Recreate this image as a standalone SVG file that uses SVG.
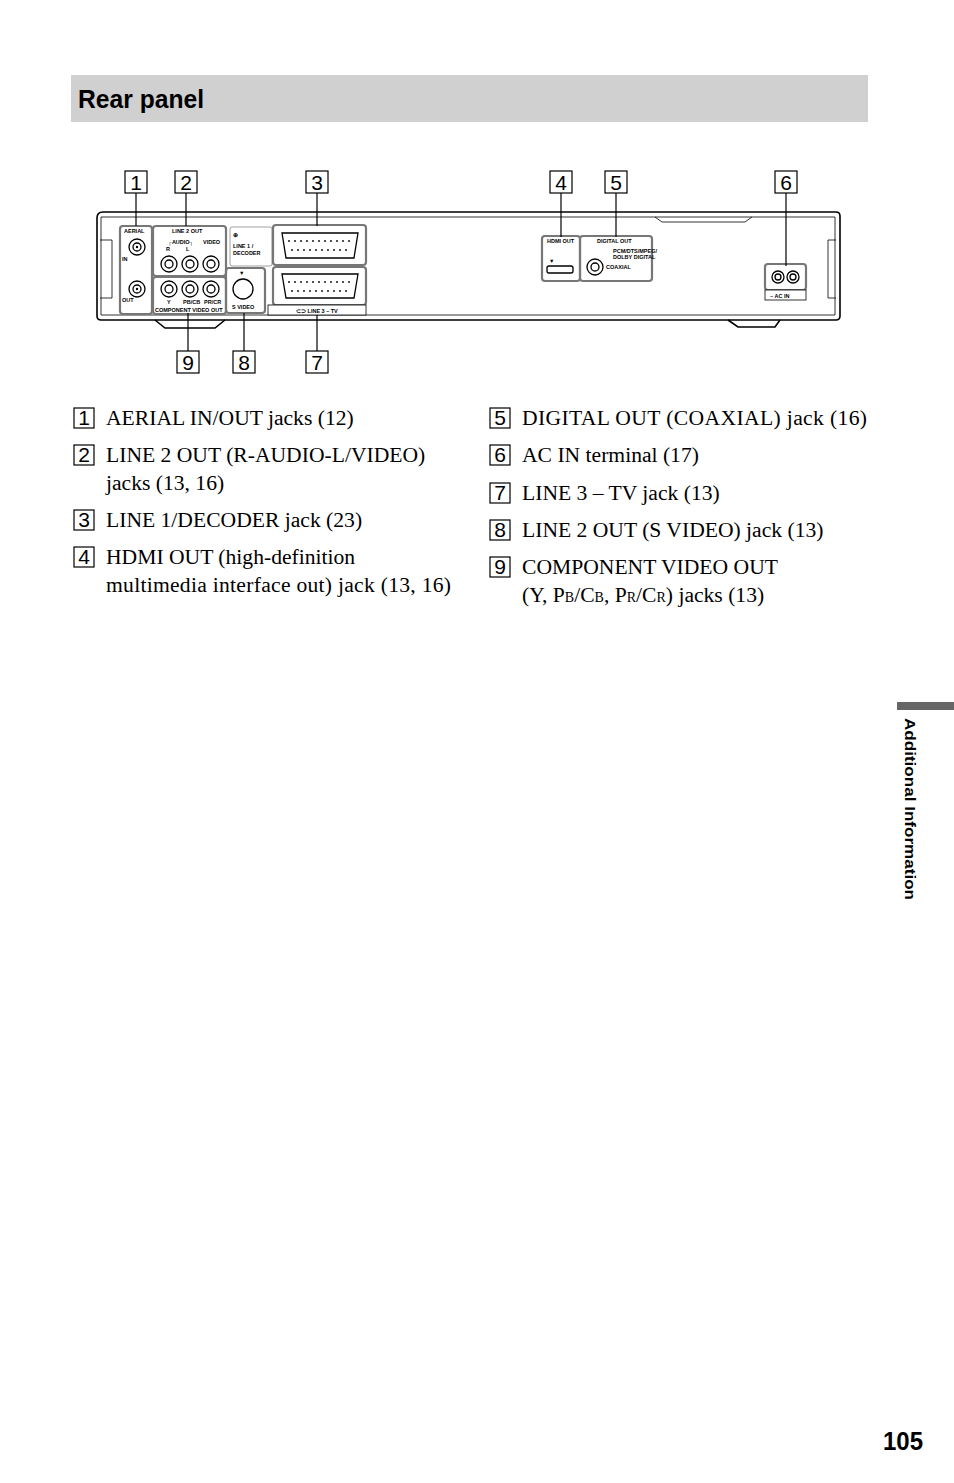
<svg xmlns="http://www.w3.org/2000/svg" width="954" height="1483" viewBox="0 0 954 1483">
<style>
.nb{fill:#fff;stroke:#000;stroke-width:1.2}
.nt{font-family:"Liberation Sans",Arial,sans-serif;font-size:21px;text-anchor:middle}
.ld{stroke:#000;stroke-width:1.2;fill:none}
.pn{fill:none;stroke:#777;stroke-width:2.2}
.ch{fill:none;stroke:#000;stroke-width:1.6}
.tn{font-family:"Liberation Sans",Arial,sans-serif;font-size:5.5px;font-weight:bold}
.tx{font-family:"Liberation Serif","Times New Roman",serif;font-size:21.6px}
.jk{fill:#fff;stroke:#000;stroke-width:1.3}
.sm{font-size:14px}
</style>
<rect x="71" y="75" width="797" height="47" fill="#d0d0d0"/>
<text x="78" y="108" font-family="Liberation Sans,Arial,sans-serif" font-weight="bold" font-size="26" textLength="126" lengthAdjust="spacingAndGlyphs">Rear panel</text>

<g id="chassis">
<path class="ch" d="M103,212 H836 Q840,212 840,216 V316 Q840,320 836,320 H101 Q97,320 97,316 V218 Q97,212 103,212 Z"/>
<path d="M101,217 H835 V315 H101 Z" fill="none" stroke="#000" stroke-width="0.8"/>
<path d="M100,240 H112 V298 H100" fill="none" stroke="#000" stroke-width="0.8"/>
<path d="M836,240 H828 V298 H836" fill="none" stroke="#000" stroke-width="0.8"/>
<path d="M155,320 L165,328 H215 L225,320" class="ch"/>
<path d="M728,320 L738,327 H775 L780,320" class="ch"/>
<path d="M655,217 L662,222 H745 L752,217" fill="none" stroke="#000" stroke-width="0.8"/>
</g>

<g id="aerial">
<rect class="pn" x="120" y="226" width="32" height="88" rx="3"/>
<text class="tn" x="124" y="233">AERIAL</text>
<circle class="jk" cx="137" cy="247" r="8"/><circle class="jk" cx="137" cy="247" r="4"/><circle cx="137" cy="247" r="1.2"/>
<circle class="jk" cx="137" cy="289" r="8"/><circle class="jk" cx="137" cy="289" r="4"/><circle cx="137" cy="289" r="1.2"/>
<text class="tn" x="122" y="261">IN</text><text class="tn" x="122" y="302">OUT</text>
</g>
<g id="line2out">
<rect class="pn" x="153" y="226" width="73" height="50" rx="3"/>
<text class="tn" x="172" y="233">LINE 2 OUT</text>
<text class="tn" x="168" y="244">┌AUDIO┐</text><text class="tn" x="203" y="244">VIDEO</text>
<text class="tn" x="166" y="251">R</text><text class="tn" x="186" y="251">L</text>
<circle class="jk" cx="169" cy="264" r="8"/><circle class="jk" cx="169" cy="264" r="4"/>
<circle class="jk" cx="190" cy="264" r="8"/><circle class="jk" cx="190" cy="264" r="4"/>
<circle class="jk" cx="211" cy="264" r="8"/><circle class="jk" cx="211" cy="264" r="4"/>
</g>
<g id="component">
<rect class="pn" x="153" y="277" width="73" height="37" rx="3"/>
<circle class="jk" cx="169" cy="289" r="8"/><circle class="jk" cx="169" cy="289" r="4"/>
<circle class="jk" cx="190" cy="289" r="8"/><circle class="jk" cx="190" cy="289" r="4"/>
<circle class="jk" cx="211" cy="289" r="8"/><circle class="jk" cx="211" cy="289" r="4"/>
<text class="tn" x="167" y="304">Y</text><text class="tn" x="183" y="304">PB/CB</text><text class="tn" x="204" y="304">PR/CR</text>
<text class="tn" x="155" y="312">COMPONENT VIDEO OUT</text>
</g>
<g id="svideo">
<rect class="pn" x="226" y="268" width="39" height="45" rx="3"/>
<text class="tn" x="239" y="275">▼</text>
<circle class="jk" cx="243" cy="289" r="10"/>
<text class="tn" x="232" y="309">S VIDEO</text>
</g>
<g id="line1">
<rect x="230" y="227" width="42" height="39" rx="2" fill="none" stroke="#888" stroke-width="0.8"/>
<text class="tn" x="233" y="237">⊕</text>
<text class="tn" x="233" y="248">LINE 1 /</text><text class="tn" x="233" y="255">DECODER</text>
<rect class="pn" x="273" y="225" width="93" height="40" rx="3"/>
<path class="jk" d="M282,233 H358 L354,258 H286 Z"/>
<g fill="#000"><circle cx="289" cy="241" r="0.9"/><circle cx="295" cy="241" r="0.9"/><circle cx="301" cy="241" r="0.9"/><circle cx="307" cy="241" r="0.9"/><circle cx="313" cy="241" r="0.9"/><circle cx="319" cy="241" r="0.9"/><circle cx="325" cy="241" r="0.9"/><circle cx="331" cy="241" r="0.9"/><circle cx="337" cy="241" r="0.9"/><circle cx="343" cy="241" r="0.9"/><circle cx="349" cy="241" r="0.9"/>
<circle cx="292" cy="250" r="0.9"/><circle cx="298" cy="250" r="0.9"/><circle cx="304" cy="250" r="0.9"/><circle cx="310" cy="250" r="0.9"/><circle cx="316" cy="250" r="0.9"/><circle cx="322" cy="250" r="0.9"/><circle cx="328" cy="250" r="0.9"/><circle cx="334" cy="250" r="0.9"/><circle cx="340" cy="250" r="0.9"/><circle cx="346" cy="250" r="0.9"/></g>
</g>
<g id="line3">
<rect class="pn" x="273" y="267" width="93" height="38" rx="3"/>
<path class="jk" d="M282,274 H358 L354,298 H286 Z"/>
<g fill="#000"><circle cx="289" cy="282" r="0.9"/><circle cx="295" cy="282" r="0.9"/><circle cx="301" cy="282" r="0.9"/><circle cx="307" cy="282" r="0.9"/><circle cx="313" cy="282" r="0.9"/><circle cx="319" cy="282" r="0.9"/><circle cx="325" cy="282" r="0.9"/><circle cx="331" cy="282" r="0.9"/><circle cx="337" cy="282" r="0.9"/><circle cx="343" cy="282" r="0.9"/><circle cx="349" cy="282" r="0.9"/>
<circle cx="292" cy="291" r="0.9"/><circle cx="298" cy="291" r="0.9"/><circle cx="304" cy="291" r="0.9"/><circle cx="310" cy="291" r="0.9"/><circle cx="316" cy="291" r="0.9"/><circle cx="322" cy="291" r="0.9"/><circle cx="328" cy="291" r="0.9"/><circle cx="334" cy="291" r="0.9"/><circle cx="340" cy="291" r="0.9"/><circle cx="346" cy="291" r="0.9"/></g>
<rect x="268" y="305" width="98" height="10" fill="#fff" stroke="#000" stroke-width="0.8"/>
<text class="tn" x="296" y="312.5">⊂⊃ LINE 3 – TV</text>
</g>
<g id="hdmi">
<rect class="pn" x="542" y="236" width="38" height="45" rx="3"/>
<text class="tn" x="547" y="243">HDMI OUT</text>
<text class="tn" x="549" y="263">▼</text>
<rect class="jk" x="547" y="266" width="26" height="7" rx="2"/>
</g>
<g id="digital">
<rect class="pn" x="580" y="236" width="72" height="45" rx="3"/>
<text class="tn" x="597" y="243">DIGITAL OUT</text>
<text class="tn" x="613" y="253" font-size="4">PCM/DTS/MPEG/</text><text class="tn" x="613" y="259" font-size="4">DOLBY DIGITAL</text>
<circle class="jk" cx="595" cy="267" r="8"/><circle class="jk" cx="595" cy="267" r="4"/>
<text class="tn" x="606" y="269">COAXIAL</text>
</g>
<g id="acin">
<rect class="pn" x="765" y="264" width="41" height="26" rx="3"/>
<circle class="jk" cx="778" cy="277" r="6"/><circle class="jk" cx="778" cy="277" r="3"/>
<circle class="jk" cx="793" cy="277" r="6"/><circle class="jk" cx="793" cy="277" r="3"/>
<rect x="765" y="290" width="41" height="10" fill="#fff" stroke="#000" stroke-width="0.8"/>
<text class="tn" x="770" y="297.5">~ AC IN</text>
</g>

<g id="connectors">
<line class="ld" x1="136" y1="193" x2="136" y2="226"/>
<line class="ld" x1="186" y1="193" x2="186" y2="226"/>
<line class="ld" x1="317" y1="193" x2="317" y2="226"/>
<line class="ld" x1="561" y1="193" x2="561" y2="237"/>
<line class="ld" x1="616" y1="193" x2="616" y2="237"/>
<line class="ld" x1="786" y1="193" x2="786" y2="266"/>
<line class="ld" x1="188" y1="313" x2="188" y2="351"/>
<line class="ld" x1="244" y1="313" x2="244" y2="351"/>
<line class="ld" x1="317" y1="315" x2="317" y2="351"/>
</g>

<g id="labels">
<rect class="nb" x="125" y="171" width="22" height="22"/><text class="nt" x="136" y="190">1</text>
<rect class="nb" x="175" y="171" width="22" height="22"/><text class="nt" x="186" y="190">2</text>
<rect class="nb" x="306" y="171" width="22" height="22"/><text class="nt" x="317" y="190">3</text>
<rect class="nb" x="550" y="171" width="22" height="22"/><text class="nt" x="561" y="190">4</text>
<rect class="nb" x="605" y="171" width="22" height="22"/><text class="nt" x="616" y="190">5</text>
<rect class="nb" x="775" y="171" width="22" height="22"/><text class="nt" x="786" y="190">6</text>
<rect class="nb" x="177" y="351" width="22" height="22"/><text class="nt" x="188" y="370">9</text>
<rect class="nb" x="233" y="351" width="22" height="22"/><text class="nt" x="244" y="370">8</text>
<rect class="nb" x="306" y="351" width="22" height="22"/><text class="nt" x="317" y="370">7</text>
</g>

<g id="list">
<rect class="nb" x="74" y="408" width="20" height="20"/><text class="nt" x="84" y="425" font-size="18">1</text>
<text class="tx" x="106" y="425">AERIAL IN/OUT jacks (12)</text>
<rect class="nb" x="74" y="445" width="20" height="20"/><text class="nt" x="84" y="462" font-size="18">2</text>
<text class="tx" x="106" y="462">LINE 2 OUT (R-AUDIO-L/VIDEO)</text>
<text class="tx" x="106" y="490">jacks (13, 16)</text>
<rect class="nb" x="74" y="510" width="20" height="20"/><text class="nt" x="84" y="527" font-size="18">3</text>
<text class="tx" x="106" y="527">LINE 1/DECODER jack (23)</text>
<rect class="nb" x="74" y="547" width="20" height="20"/><text class="nt" x="84" y="564" font-size="18">4</text>
<text class="tx" x="106" y="564">HDMI OUT (high-definition</text>
<text class="tx" x="106" y="592" textLength="345" lengthAdjust="spacing">multimedia interface out) jack (13, 16)</text>

<rect class="nb" x="490" y="408" width="20" height="20"/><text class="nt" x="500" y="425" font-size="18">5</text>
<text class="tx" x="522" y="425" textLength="345" lengthAdjust="spacing">DIGITAL OUT (COAXIAL) jack (16)</text>
<rect class="nb" x="490" y="445" width="20" height="20"/><text class="nt" x="500" y="462" font-size="18">6</text>
<text class="tx" x="522" y="462">AC IN terminal (17)</text>
<rect class="nb" x="490" y="483" width="20" height="20"/><text class="nt" x="500" y="500" font-size="18">7</text>
<text class="tx" x="522" y="500">LINE 3 – TV jack (13)</text>
<rect class="nb" x="490" y="520" width="20" height="20"/><text class="nt" x="500" y="537" font-size="18">8</text>
<text class="tx" x="522" y="537">LINE 2 OUT (S VIDEO) jack (13)</text>
<rect class="nb" x="490" y="557" width="20" height="20"/><text class="nt" x="500" y="574" font-size="18">9</text>
<text class="tx" x="522" y="574">COMPONENT VIDEO OUT</text>
<text class="tx" x="522" y="602">(Y, P<tspan class="sm">B</tspan>/C<tspan class="sm">B</tspan>, P<tspan class="sm">R</tspan>/C<tspan class="sm">R</tspan>) jacks (13)</text>
</g>

<rect x="897" y="702" width="57" height="8" fill="#666"/>
<text transform="translate(905,718) rotate(90)" font-family="Liberation Sans,Arial,sans-serif" font-weight="bold" font-size="14" textLength="182" lengthAdjust="spacingAndGlyphs">Additional Information</text>
<text x="883" y="1450" font-family="Liberation Sans,Arial,sans-serif" font-weight="bold" font-size="25" textLength="40" lengthAdjust="spacingAndGlyphs">105</text>
</svg>
